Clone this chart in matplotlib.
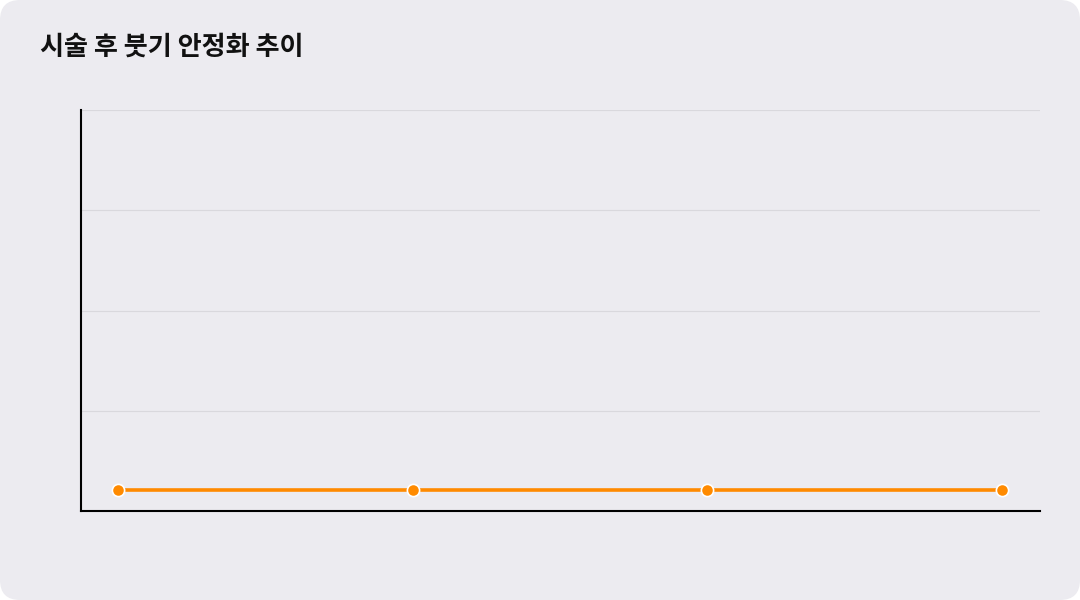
import matplotlib
matplotlib.use("Agg")
import matplotlib.pyplot as plt
from matplotlib.patches import FancyBboxPatch

plt.rcParams['font.family'] = ['Noto Sans CJK KR', 'DejaVu Sans']

title = '시술 후 붓기 안정화 추이'
stages = ['1주', '2주', '3주', '4주']
swelling = [5.3, 5.3, 5.3, 5.3]
y_ticks = [0, 25, 50, 75, 100]

bg = '#ECEBF0'
orange = '#FF8A00'

fig = plt.figure(figsize=(10.8, 6), dpi=100)
fig.patch.set_facecolor('white')

# rounded card behind everything
card = FancyBboxPatch((0, 0), 1080, 600, boxstyle='round,pad=0,rounding_size=20',
                      transform=None, facecolor=bg, edgecolor='none', zorder=-10)
fig.patches.append(card)

ax = fig.add_axes([81 / 1080, 1 - 511 / 600, (1040 - 81) / 1080, (511 - 110) / 600])
ax.set_facecolor('none')
ax.set_zorder(1)

x = list(range(len(stages)))
ax.plot(x, swelling, color=orange, linewidth=2.6, marker='o', markersize=8.8,
        markerfacecolor=orange, markeredgecolor='white', markeredgewidth=1.2,
        zorder=3, clip_on=False)

ax.set_xlim(-0.127, len(stages) - 1 + 0.13)
ax.set_ylim(y_ticks[0], y_ticks[-1])
ax.set_yticks(y_ticks)
ax.set_xticks(x)
ax.set_xticklabels([])
ax.set_yticklabels([])
ax.tick_params(length=0)
ax.grid(axis='y', color='#D9D8DD', linewidth=0.8)
ax.set_axisbelow(True)

for side in ['top', 'right']:
    ax.spines[side].set_visible(False)
for side in ['left', 'bottom']:
    ax.spines[side].set_color('black')
    ax.spines[side].set_linewidth(1.5)

fig.text(40 / 1080, 1 - 47 / 600, title, fontsize=18.8, fontweight='bold',
         color='#111111', ha='left', va='center', zorder=2)

fig.savefig('out.png', dpi=100, facecolor='white')
